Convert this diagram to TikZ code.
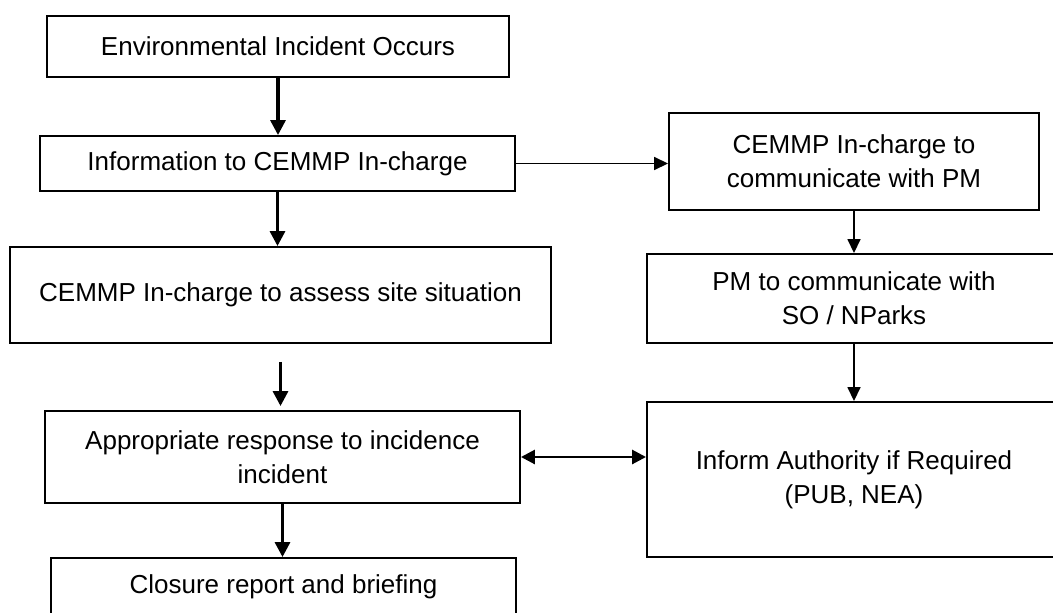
\documentclass[tikz,border=0pt]{standalone}
\usepackage{fontspec}
\setmainfont{Liberation Sans}
\usetikzlibrary{arrows.meta}
\begin{document}
\begin{tikzpicture}[x=1pt,y=-1pt,
  box/.style={draw=black,line width=1.9pt,rectangle,inner sep=0pt,align=center,
    font=\fontsize{26}{34}\selectfont},
  bigarrow/.style={line width=3.2pt,-{Triangle[length=15pt,width=15pt]}},
  thinarrow/.style={line width=1.6pt,-{Triangle[length=14pt,width=13pt]}},
  twoway/.style={line width=2.8pt,{Triangle[length=14pt,width=14pt]}-{Triangle[length=14pt,width=14pt]}}]
\useasboundingbox (0,0) rectangle (1053,613);
\clip (0,0) rectangle (1053,613);

% left column
\node[box,minimum width=462pt,minimum height=61pt] (b1) at (278,46.5) {Environmental Incident Occurs};
\node[box,minimum width=475pt,minimum height=55pt] (b2) at (277.5,163.5) {Information to CEMMP In-charge};
\node[box,minimum width=541pt,minimum height=96pt] (b4) at (280.5,295) {CEMMP In-charge to assess site situation};
\node[box,minimum width=475pt,minimum height=92pt] (b6) at (282.5,457) {Appropriate response to incidence\\incident};
\node[box,minimum width=465pt,minimum height=58pt] (b7) at (283.5,587) {Closure report and briefing};

% right column
\node[box,minimum width=370pt,minimum height=97pt] (b3) at (854,161.5) {CEMMP In-charge to\\communicate with PM};
\node[box,minimum width=414pt,minimum height=89pt] (b5) at (854,298.5) {PM to communicate with\\SO / NParks};
\node[box,minimum width=414pt,minimum height=155pt] (b8) at (854,479.5) {Inform Authority if Required\\(PUB, NEA)};

% connectors
\draw[bigarrow] (b1.south) -- (b1.south |- b2.north);
\draw[bigarrow] (b2.south) -- (b2.south |- b4.north);
\draw[bigarrow,shorten <=18pt,shorten >=4pt] (b4.south) -- (b4.south |- b6.north);
\draw[bigarrow] (b6.south) -- (b6.south |- b7.north);
\draw[thinarrow] (b2.east) -- (b2.east -| b3.west);
\draw[thinarrow] (b3.south) -- (b5.north);
\draw[thinarrow] (b5.south) -- (b8.north);
\draw[twoway] (b6.east) -- (b6.east -| b8.west);
\end{tikzpicture}
\end{document}
